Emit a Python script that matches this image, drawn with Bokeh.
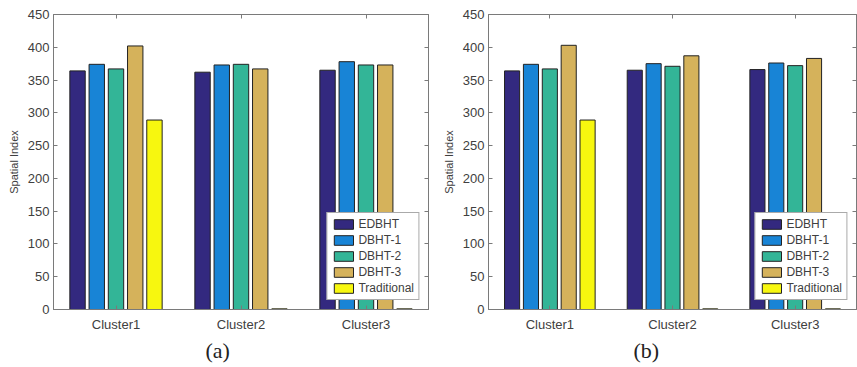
from bokeh.plotting import figure
from bokeh.layouts import row
from bokeh.models import ColumnDataSource, LinearAxis, Title, Legend, LegendItem, FixedTicker, Range1d
from bokeh.embed import file_html
from bokeh.resources import INLINE

clusters = ["Cluster1", "Cluster2", "Cluster3"]
series = ["EDBHT", "DBHT-1", "DBHT-2", "DBHT-3", "Traditional"]
colors = ["#33297F", "#1884D6", "#33B597", "#D5B25B", "#F7F70F"]

vals_a = {
    "EDBHT": [364, 362, 365],
    "DBHT-1": [374, 373, 378],
    "DBHT-2": [367, 374, 373],
    "DBHT-3": [402, 367, 373],
    "Traditional": [289, 1, 1],
}
vals_b = {
    "EDBHT": [364, 365, 366],
    "DBHT-1": [374, 375, 376],
    "DBHT-2": [367, 371, 372],
    "DBHT-3": [403, 387, 383],
    "Traditional": [289, 1, 1],
}
y_ticks = [0, 50, 100, 150, 200, 250, 300, 350, 400, 450]

FONT = "Liberation Sans"
TXT = "#404040"
AX = "#7a7a7a"


def make(vals, caption, width, left, right, cap_offset):
    p = figure(width=width, height=367, output_backend="svg", toolbar_location=None,
               x_range=Range1d(0.5, 3.5), y_range=Range1d(0, 450),
               min_border_left=left, min_border_right=right, min_border_top=14,
               min_border_bottom=58)
    p.grid.visible = False
    p.outline_line_color = AX
    p.outline_line_width = 1
    n = len(series)
    gw = min(0.8, n / (n + 1.5))
    step = gw / n
    bw = step * 0.8
    items = []
    for i, s in enumerate(series):
        xs = [k + 1 - gw / 2 + step * (i + 0.5) for k in range(len(clusters))]
        src = ColumnDataSource(dict(x=xs, top=vals[s]))
        r = p.vbar(x="x", top="top", bottom=0, width=bw, source=src,
                   fill_color=colors[i], line_color="#222222", line_width=1)
        items.append(LegendItem(label=s, renderers=[r]))
    p.xaxis.ticker = FixedTicker(ticks=[1, 2, 3])
    p.xaxis.major_label_overrides = {1: clusters[0], 2: clusters[1], 3: clusters[2]}
    p.yaxis.ticker = FixedTicker(ticks=y_ticks)
    for ax in (p.xaxis[0], p.yaxis[0]):
        ax.axis_line_color = AX
        ax.major_tick_line_color = AX
        ax.major_tick_in = 4
        ax.major_tick_out = 0
        ax.minor_tick_line_color = None
        ax.major_label_text_font = FONT
        ax.major_label_text_font_size = "13px"
        ax.major_label_text_color = TXT
    p.yaxis.axis_label = "Spatial Index"
    p.yaxis.axis_label_text_font = FONT
    p.yaxis.axis_label_text_font_size = "11px"
    p.yaxis.axis_label_text_font_style = "normal"
    p.yaxis.axis_label_text_color = TXT
    p.yaxis.axis_label_standoff = 5
    p.yaxis.major_label_standoff = 4
    p.xaxis.major_label_standoff = 7
    ax_r = LinearAxis(ticker=FixedTicker(ticks=y_ticks),
                      major_label_overrides={t: "" for t in y_ticks},
                      axis_line_color=AX, major_tick_line_color=AX, major_tick_in=4,
                      major_tick_out=0, minor_tick_line_color=None)
    ax_t = LinearAxis(ticker=FixedTicker(ticks=[1, 2, 3]),
                      major_label_overrides={1: "", 2: "", 3: ""},
                      axis_line_color=AX, major_tick_line_color=AX, major_tick_in=4,
                      major_tick_out=0, minor_tick_line_color=None)
    p.add_layout(ax_r, "right")
    p.add_layout(ax_t, "above")
    leg = Legend(items=items, location="bottom_right")
    leg.label_text_font = FONT
    leg.label_text_font_size = "12px"
    leg.label_text_color = TXT
    leg.glyph_width = 24
    leg.glyph_height = 12
    leg.label_height = 12
    leg.spacing = 2
    leg.padding = 4
    leg.margin = 9
    leg.label_standoff = 3
    leg.border_line_color = "#555555"
    leg.background_fill_alpha = 1.0
    p.add_layout(leg)
    t = Title(text=caption, align="left", offset=cap_offset, text_font="Liberation Serif",
              text_font_size="22px", text_font_style="normal", text_color="#222222",
              standoff=2)
    p.add_layout(t, "below")
    return p


pa = make(vals_a, "(a)", 430, 53, 2, 152)
pb = make(vals_b, "(b)", 427, 58, 1, 145)
layout = row(pa, pb, spacing=0)
open("out.html", "w").write(file_html(layout, INLINE))
